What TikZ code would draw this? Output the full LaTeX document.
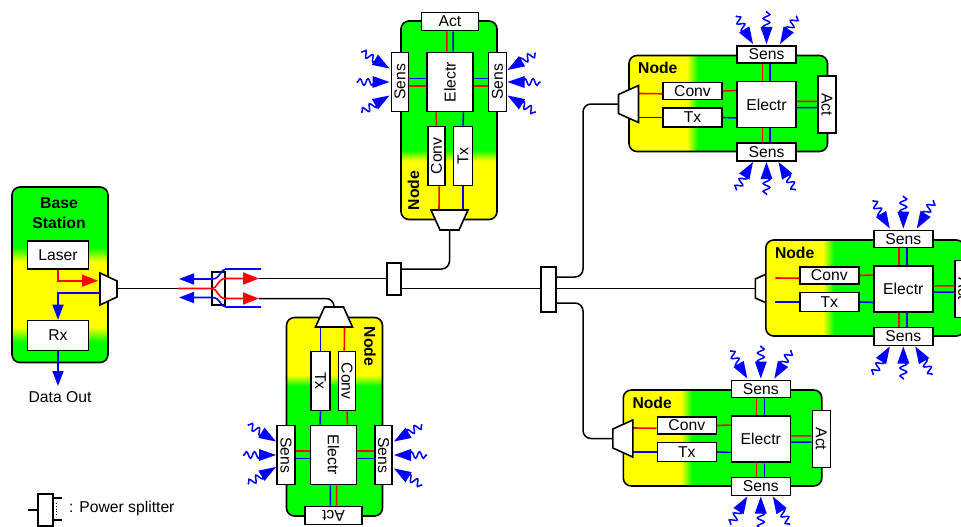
\documentclass[tikz,border=0pt]{standalone}
\usepackage{fontspec}
\setmainfont{Liberation Sans}
\usetikzlibrary{calc,arrows.meta,decorations.pathmorphing}
\definecolor{boxyellow}{rgb}{1,1,0}
\definecolor{boxgreen}{rgb}{0,1,0}

\begin{document}
\begin{tikzpicture}[
  x=1pt,
  y=-1pt,
  every node/.style={font=\fontsize{15.7}{19.5}\selectfont}
]

% styles
\tikzset{
  unit/.style={draw=black, fill=white, line width=1.6pt, inner sep=0pt},
  fiber/.style={draw=black, line width=1.5pt, rounded corners=8pt},
  trapz/.style={draw=black, fill=white, line width=1.6pt, line join=miter},
  sigred/.style={draw=red, line width=1.6pt},
  sigblue/.style={draw=blue, line width=1.6pt},
  headred/.style={sigred, -{Triangle[length=16pt,width=12pt]}},
  headblue/.style={sigblue, -{Triangle[length=15pt,width=11pt]}},
  wave/.style={draw=blue, line width=1.5pt, decorate,
    decoration={snake, segment length=8pt, amplitude=3.4pt}}
}

\useasboundingbox (0,0) rectangle (961,527);

% ===== one sensor node, drawn around its Electr box =====
\def\sensornode#1#2#3#4{
  \begin{scope}[shift={(#2,#3)}, rotate=#4, transform shape]
    \begin{scope}
      \clip[rounded corners=8pt] (-137.5,-49) rectangle (61,47);
      \fill[boxyellow] (-137.5,-49) rectangle (61,47);
      \foreach \i [evaluate=\i as \p using \i*9.09] in {0,...,11} {
        \fill[boxgreen!\p!boxyellow] ({-80+\i},-49) rectangle (61,47);
      }
    \end{scope}
    \draw[black, line width=1.6pt, rounded corners=8pt] (-137.5,-49) rectangle (61,47);
    \node[anchor=west, inner sep=0pt, font=\fontsize{15.7}{19.5}\selectfont\bfseries] (#1-title) at (-128.5,-36.5) {Node};
    \node[unit, minimum width=59pt, minimum height=46pt] (#1-elec) at (0,0) {Electr};
    \node[unit, minimum width=59pt, minimum height=17pt] (#1-conv) at (-74,-13.5) {Conv};
    \node[unit, minimum width=59pt, minimum height=19pt] (#1-tx) at (-74,13) {Tx};
    \node[unit, minimum width=59pt, minimum height=17pt] (#1-senstop) at (0,-50) {Sens};
    \node[unit, minimum width=59pt, minimum height=18pt] (#1-sensbot) at (0,47.5) {Sens};
    \node[unit, rotate=-90, minimum width=57pt, minimum height=18pt] (#1-act) at (60.5,0) {Act};
    \coordinate (#1-inred) at (-128,-11);
    \coordinate (#1-inblue) at (-128,13);
    % signal lines
    \draw[sigred] (#1-inred) -- ($(#1-conv.north west)!.647!(#1-conv.south west)$);
    \draw[sigblue] (#1-inblue) -- (#1-tx.west);
    \draw[sigred] (#1-conv.east) -- ($(#1-elec.north west)!.207!(#1-elec.south west)$);
    \draw[sigblue] (#1-tx.east) -- ($(#1-elec.north west)!.783!(#1-elec.south west)$);
    \draw[sigred] ($(#1-elec.north west)!.432!(#1-elec.north east)$) -- ($(#1-senstop.south west)!.432!(#1-senstop.south east)$);
    \draw[sigblue] ($(#1-elec.north west)!.56!(#1-elec.north east)$) -- ($(#1-senstop.south west)!.56!(#1-senstop.south east)$);
    \draw[sigred] ($(#1-elec.south west)!.432!(#1-elec.south east)$) -- ($(#1-sensbot.north west)!.432!(#1-sensbot.north east)$);
    \draw[sigblue] ($(#1-elec.south west)!.56!(#1-elec.south east)$) -- ($(#1-sensbot.north west)!.56!(#1-sensbot.north east)$);
    \draw[sigred] ($(#1-elec.north east)!.435!(#1-elec.south east)$) -- ($(#1-act.south west)!.447!(#1-act.south east)$);
    \draw[sigblue] ($(#1-elec.north east)!.565!(#1-elec.south east)$) -- ($(#1-act.south west)!.553!(#1-act.south east)$);
    % incoming rays
    \foreach \tx/\ty/\a in {-13.5/-60.5/-59, 0/-60.5/-90, 13.5/-60.5/-121,
                            -13.5/57.5/59, 0/57.5/90, 12/57.5/121} {
      \begin{scope}[shift={(\tx,\ty)}, rotate=\a]
        \draw[wave] (-15,0) -- (-33,0);
        \fill[blue] (0,0) -- (-17,-6) -- (-17,6) -- cycle;
      \end{scope}
    }
  \end{scope}
}
\def\fiberport#1#2#3#4{
  \begin{scope}[shift={(#2,#3)}, rotate=#4]
    \draw[trapz] (-148,-10) -- (-128,-19) -- (-128,18) -- (-148,9) -- cycle;
    \coordinate (#1-port) at (-148,-0.5);
  \end{scope}
}

% ===== fibre plant =====
\coordinate (bs-out) at (117,288.5);
\coordinate (sp0-in) at (178,288.5);
\coordinate (sp0-a) at (259,278.5);
\coordinate (sp0-b) at (259,298.5);
\coordinate (sp1-a) at (401,269);
\coordinate (sp1-b) at (401,288.5);
\coordinate (sp2-a) at (556,277);
\coordinate (sp2-b) at (556,303);
\coordinate (riser-a) at (583,277);
\coordinate (riser-b) at (583,303);

% ===== nodes =====
\fiberport{right}{903.3}{289}{0}
\sensornode{upper}{766.5}{104.5}{0}
\fiberport{upper}{766.5}{104.5}{0}
\sensornode{right}{903.3}{289}{0}
\sensornode{lower}{760.8}{439}{0}
\fiberport{lower}{760.8}{439}{0}
\sensornode{top}{450}{82}{90}
\fiberport{top}{450}{82}{90}
\sensornode{bottom}{333.5}{455}{-90}
\fiberport{bottom}{333.5}{455}{-90}

\draw[fiber] (bs-out) -- (sp0-in);
\draw[fiber] (sp0-a) -- (387,278.5);
\draw[fiber] (sp0-b) -| (bottom-port);
\draw[fiber] (sp1-a) -| (top-port);
\draw[fiber] (sp1-b) -- (right-port);
\draw[fiber] (sp2-a) -- (riser-a) |- (upper-port);
\draw[fiber] (sp2-b) -- (riser-b) |- (lower-port);

% ===== splitters =====
\node[unit, minimum width=14pt, minimum height=32pt] (sp1) at (394,279) {};
\node[unit, minimum width=15pt, minimum height=45pt] (sp2) at (548.5,289.5) {};
\node[unit, minimum width=13pt, minimum height=33pt] (sp0) at (218.5,288.5) {};

% red and blue at the first splitter
\draw[headred] (sp0-in) -- (212,288.5) .. controls (218,288.5) and (217,278.5) .. (226,278.5) -- (sp0-a);
\draw[headred] (212,288.5) .. controls (218,288.5) and (217,298.5) .. (226,298.5) -- (sp0-b);
\coordinate (wdm-a) at (261,269);
\coordinate (wdm-b) at (261,307);
\coordinate (wdm-atip) at (179,279);
\coordinate (wdm-btip) at (179,297.5);
\draw[headblue] (wdm-a) -- (226,269) .. controls (220,269) and (221,279) .. (212,279) -- (wdm-atip);
\draw[headblue] (wdm-b) -- (226,307) .. controls (220,307) and (221,297.5) .. (212,297.5) -- (wdm-btip);

% ===== base station =====
\begin{scope}
  \clip[rounded corners=8pt] (12,187) rectangle (108,362.5);
  \fill[boxgreen] (12,187) rectangle (108,362.5);
  \foreach \i [evaluate=\i as \p using \i*6.66] in {0,...,15} {
    \fill[boxyellow!\p!boxgreen] (12,{247+\i}) rectangle (108,{343-\i});
  }
\end{scope}
\draw[black, line width=1.6pt, rounded corners=8pt] (12,187) rectangle (108,362.5);
\node[align=center, font=\fontsize{15.7}{19.5}\selectfont\bfseries] (bs-title) at (59,213) {Base\\Station};
\node[unit, minimum width=61pt, minimum height=28pt] (laser) at (58,255) {Laser};
\node[unit, minimum width=61pt, minimum height=30pt] (rx) at (58,335.5) {Rx};
\draw[trapz] (100,273) -- (117,281) -- (117,297) -- (100,305) -- cycle;
\coordinate (bs-inred) at (98,280.7);
\coordinate (bs-inblue) at (100,292.7);
\coordinate (data-out) at (58,386);
\node (data-label) at (60,397) {Data Out};
\draw[headred] (laser.south) |- (bs-inred);
\draw[headblue] (bs-inblue) -| (rx.north);
\draw[headblue] (rx.south) -- (data-out);

% ===== legend =====
\node[unit, minimum width=15pt, minimum height=32pt] (sp3) at (45.5,510) {};
\coordinate (sp3-in) at (28,510);
\coordinate (sp3-a) at (62,498);
\coordinate (sp3-b) at (62,520);
\draw[fiber] (sp3-in) -- (sp3.west);
\draw[fiber] (sp3.east |- sp3-a) -- (sp3-a);
\draw[fiber] (sp3.east |- sp3-b) -- (sp3-b);
\draw[black, line width=0.8pt, dotted] (56.5,503) -- (56.5,517);
\node[anchor=west, inner sep=0pt] (sp3-label) at (69,508) {: Power splitter};

\end{tikzpicture}
\end{document}
